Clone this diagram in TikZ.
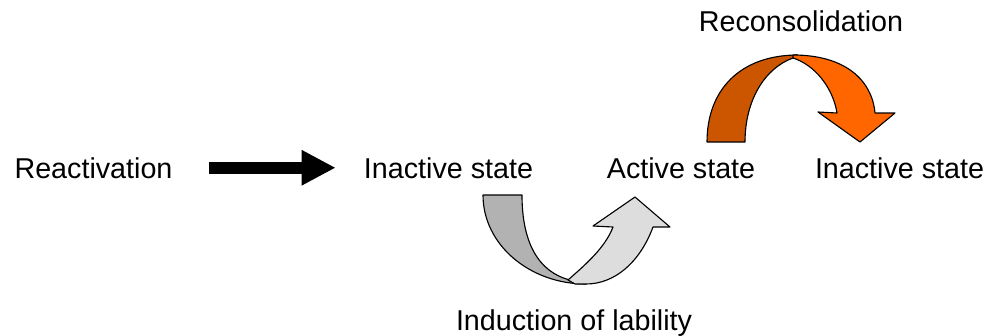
\documentclass[tikz,border=0pt]{standalone}
\usepackage{fontspec}
\setmainfont{Liberation Sans}
\usetikzlibrary{arrows.meta}
\definecolor{lab_dark}{RGB}{178, 178, 178}
\definecolor{lab_light}{RGB}{221, 221, 221}
\definecolor{rec_dark}{RGB}{204, 85, 0}
\definecolor{rec_light}{RGB}{255, 102, 0}
\tikzstyle{lbl}=[inner sep=0pt,anchor=base,font=\fontsize{20.4}{24}\selectfont]
\tikzstyle{band}=[draw=black,line width=0.8 pt,line join=round]
\tikzstyle{blk}=[line width=0.3cm,-{Triangle[length=0.85cm,width=0.825cm]},
  shorten <=0.9cm,shorten >=0.7cm]

\begin{document}
\begin{tikzpicture}[x=0.025cm,y=-0.025cm]
    \useasboundingbox (0,0) rectangle (990,335);
    \node [style=lbl] (react) at (93.5,178) {Reactivation};
    \node [style=lbl] (inact) at (448.5,178) {Inactive state};
    \node [style=lbl] (act) at (681,178) {Active state};
    \node [style=lbl] (inactb) at (899.5,178) {Inactive state};
    \node [style=lbl] (recon) at (801,31) {Reconsolidation};
    \node [style=lbl] (lab) at (574,330) {Induction of lability};
    \draw [style=blk] (react) to (inact);
    % induction of lability
    \draw [style=band,fill=lab_dark] (483,195) -- (522,195)
      .. controls (522,242) and (538,272) .. (570,280) -- (586,284)
      .. controls (530,284) and (483,245) .. (483,195) -- cycle;
    \draw [style=band,fill=lab_light] (568,280)
      .. controls (585,265) and (605,248) .. (613,227) -- (593,226)
      -- (635,197) -- (670,227) -- (653,227)
      .. controls (640,262) and (615,284) .. (586,284) -- (575,284) -- cycle;
    % reconsolidation
    \draw [style=band,fill=rec_dark] (707,142) -- (745,142)
      .. controls (745,100) and (765,68) .. (793,58) -- (798,55)
      .. controls (740,55) and (707,90) .. (707,142) -- cycle;
    \draw [style=band,fill=rec_light] (793,58)
      .. controls (815,65) and (833,88) .. (837,113) -- (818,112)
      -- (860,142) -- (895,113) -- (875,113)
      .. controls (872,80) and (845,55) .. (793,55) -- cycle;
  \end{tikzpicture}
\end{document}
